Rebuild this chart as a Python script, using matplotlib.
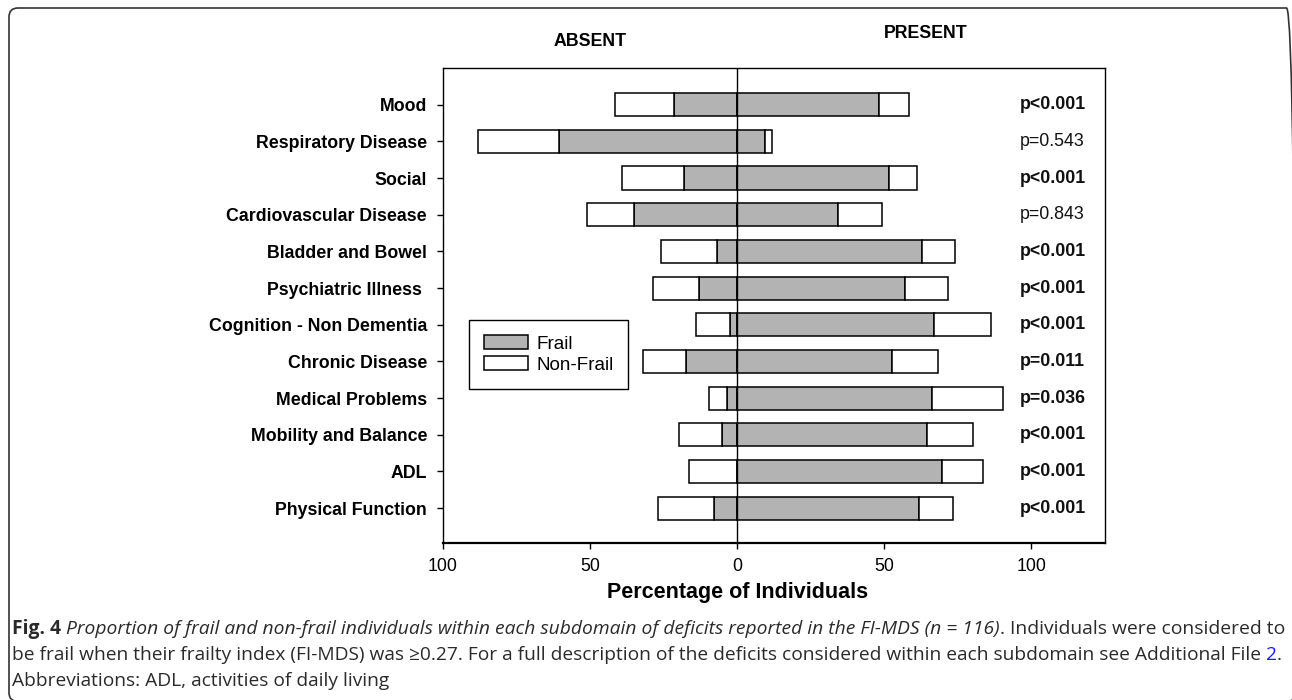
import matplotlib
matplotlib.use("Agg")
import matplotlib.pyplot as plt
from matplotlib.patches import Patch, FancyBboxPatch
from matplotlib.transforms import blended_transform_factory, IdentityTransform

# ---------------- data ----------------
categories = ["Mood", "Respiratory Disease", "Social", "Cardiovascular Disease",
              "Bladder and Bowel", "Psychiatric Illness ", "Cognition - Non Dementia",
              "Chronic Disease", "Medical Problems", "Mobility and Balance", "ADL",
              "Physical Function"]
absent_frail = [21.6, 60.5, 18.2, 35.2, 6.9, 12.9, 2.6, 17.3, 3.4, 5.2, 0.0, 7.9]
absent_nonfrail = [19.9, 27.6, 20.8, 15.8, 19.0, 15.6, 11.3, 14.6, 6.1, 14.7, 16.5, 19.0]
present_frail = [48.1, 9.3, 51.6, 34.4, 62.8, 56.9, 67.0, 52.6, 66.3, 64.6, 69.6, 61.9]
present_nonfrail = [10.4, 2.6, 9.6, 14.7, 11.3, 14.6, 19.2, 15.5, 24.2, 15.5, 13.9, 11.3]
p_values = ["p<0.001", "p=0.543", "p<0.001", "p=0.843", "p<0.001", "p<0.001",
            "p<0.001", "p=0.011", "p=0.036", "p<0.001", "p<0.001", "p<0.001"]
p_significant = [True, False, True, False, True, True, True, True, True, True, True, True]
xtick_values = [-100, -50, 0, 50, 100]
xtick_labels = ["100", "50", "0", "50", "100"]
legend_labels = ["Frail", "Non-Frail"]

# ---------------- style ----------------
W, H = 1292, 700
GREY = "#b3b3b3"
CF = ["Liberation Sans", "DejaVu Sans"]
CAPF = ["Open Sans", "Liberation Sans", "DejaVu Sans"]
FS = 12.8

fig = plt.figure(figsize=(W / 100, H / 100), dpi=100)
fig.patch.set_facecolor("white")

ax = fig.add_axes([443 / W, 1 - 543 / H, (1105 - 443) / W, (543 - 68) / H])

n = len(categories)
ypos = list(range(n, 0, -1))
bh = 0.63
ekw = dict(edgecolor="black", linewidth=1.1)

ax.barh(ypos, [-v for v in absent_frail], height=bh, left=0, color=GREY, **ekw, zorder=2)
ax.barh(ypos, [-v for v in absent_nonfrail], height=bh,
        left=[-v for v in absent_frail], color="white", **ekw, zorder=2)
ax.barh(ypos, present_frail, height=bh, left=0, color=GREY, **ekw, zorder=2)
ax.barh(ypos, present_nonfrail, height=bh, left=present_frail, color="white", **ekw, zorder=2)
ax.axvline(0, color="black", linewidth=1.0, zorder=3)

ax.set_xlim(-100, 125)
ax.set_ylim(0.05, 13)

ax.set_xticks(xtick_values)
ax.set_xticklabels(xtick_labels, fontsize=FS, family=CF)
ax.set_yticks(ypos)
ax.set_yticklabels(categories, fontsize=FS, family=CF, fontweight="bold")
ax.tick_params(axis="x", direction="out", length=4.5, width=1, pad=6, colors="black")
ax.tick_params(axis="y", direction="out", length=4.5, width=1, pad=7, colors="black")
for s in ax.spines.values():
    s.set_linewidth(1.0)
ax.spines["bottom"].set_linewidth(1.6)

for y, p, sig in zip(ypos, p_values, p_significant):
    ax.text(96, y, p, ha="left", va="center", fontsize=FS, family=CF,
            fontweight="bold" if sig else "normal", color="#111111")

bt = blended_transform_factory(ax.transData, fig.transFigure)
ax.text(-50, 1 - 42 / H, "ABSENT", transform=bt, ha="center", va="center",
        fontsize=FS, family=CF, fontweight="bold")
ax.text(64, 1 - 34 / H, "PRESENT", transform=bt, ha="center", va="center",
        fontsize=FS, family=CF, fontweight="bold")
ax.text(0, 1 - 598 / H, "Percentage of Individuals", transform=bt, ha="center",
        va="baseline", fontsize=15.5, family=CF, fontweight="bold")

handles = [Patch(facecolor=GREY, edgecolor="black", linewidth=1.1),
           Patch(facecolor="white", edgecolor="black", linewidth=1.1)]
leg = fig.legend(handles, legend_labels, loc="upper left",
                 bbox_to_anchor=(469 / W, 1 - 320 / H), bbox_transform=fig.transFigure,
                 borderaxespad=0, fancybox=False, edgecolor="black", framealpha=1,
                 prop={"family": CF, "size": 13.6}, handlelength=2.3, handleheight=0.75,
                 labelspacing=0.2, borderpad=0.8, handletextpad=0.45)
leg.get_frame().set_linewidth(1.0)

# ---------------- caption ----------------
renderer = fig.canvas.get_renderer()


def text_width(s, size, **kw):
    t = fig.text(0, 0, s, fontsize=size, family=CAPF, **kw)
    w = t.get_window_extent(renderer).width
    t.remove()
    return w


def line_layout(segs, size):
    items = []
    x = 0.0
    for txt, kw, space_before in segs:
        if space_before:
            x += text_width("a a", size, **kw) - text_width("aa", size, **kw)
        w = text_width(txt, size, **kw)
        items.append((x, txt, kw))
        x += w
    return items, x


def draw_line(segs, x0, baseline_px, size, target=None):
    if target is not None:
        _, tot = line_layout(segs, size)
        size = size * target / tot
    items, _ = line_layout(segs, size)
    for x, txt, kw in items:
        fig.text((x0 + x) / W, 1 - baseline_px / H, txt, fontsize=size, family=CAPF,
                 va="baseline", ha="left", **kw)
    return size


N = dict(color="#2a2a2a")
B = dict(color="#2a2a2a", fontweight="bold")
I = dict(color="#2a2a2a", fontstyle="italic")
BLUE = dict(color="#1a1aff")

line1 = [("Fig. 4", B, False),
         ("Proportion of frail and non-frail individuals within each subdomain of deficits reported in the FI-MDS (n = 116)",
          I, True),
         (".", N, False),
         ("Individuals were considered to", N, True)]
line2 = [("be frail when their frailty index (FI-MDS) was \u22650.27. For a full description of the deficits considered within each subdomain see Additional File",
          N, False),
         ("2", BLUE, True),
         (".", N, False)]
line3 = [("Abbreviations: ADL, activities of daily living", N, False)]

x0 = 12
s1 = draw_line(line1, x0, 634, 11.0, target=1281 - x0)
s2 = draw_line(line2, x0, 660, 11.0, target=1281 - x0)
draw_line(line3, x0, 686, s2)

# ---------------- outer rounded border ----------------
border = FancyBboxPatch((9, -1.5), 1295.5 - 9, 692 - (-1.5),
                        boxstyle="round,pad=0,rounding_size=9",
                        transform=IdentityTransform(), facecolor="none",
                        edgecolor="#333333", linewidth=1.2)
fig.patches.append(border)

fig.savefig("out.png", dpi=100, facecolor="white")
